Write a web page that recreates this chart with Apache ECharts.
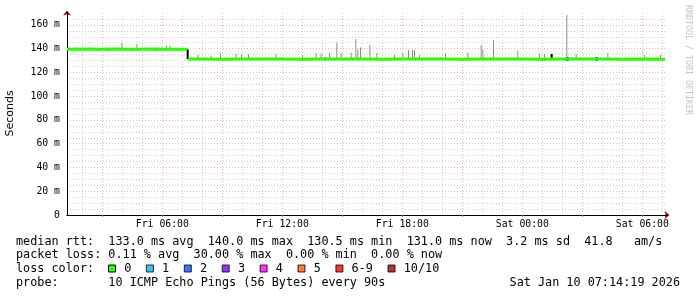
<!DOCTYPE html>
<html>
<head>
<meta charset="utf-8">
<script src="https://cdn.jsdelivr.net/npm/echarts@6/dist/echarts.min.js"></script>
<style>
html,body{margin:0;padding:0;background:#fff;}
#chart{width:697px;height:297px;}
</style>
</head>
<body>
<div id="chart"></div>
<script>
// ---- time range: Fri 01:14 -> Sat 07:14 (1 category per minute) ----
const rangeStartMin = 74;      // Fri 01:14 in minutes since Fri 00:00
const rangeEndMin = 1874;      // Sat 07:14

// ---- median RTT (ms), colour = loss 0 ----
const medianTimes = ['Fri 01:14','Fri 01:40','Fri 02:10','Fri 02:40','Fri 03:10','Fri 03:40','Fri 04:10','Fri 04:40','Fri 05:10','Fri 05:40','Fri 06:10','Fri 06:40','Fri 07:15','Fri 07:16',
  'Fri 07:17','Fri 08:00','Fri 09:00','Fri 10:00','Fri 11:00','Fri 12:00','Fri 13:00','Fri 14:00','Fri 15:00','Fri 16:00','Fri 17:00','Fri 18:00','Fri 19:00','Fri 20:00','Fri 21:00','Fri 22:00','Fri 23:00',
  'Sat 00:00','Sat 01:00','Sat 02:00','Sat 03:00','Sat 04:00','Sat 05:00','Sat 06:00','Sat 07:08'];
const medianValues = [139.5,139.4,139.6,139.5,139.4,139.6,139.5,139.5,139.4,139.6,139.5,139.4,139.5,null,
  131.2,131.3,131.1,131.2,131.3,131.2,131.1,131.2,131.3,131.2,131.1,131.2,131.3,131.2,131.1,131.2,131.3,
  131.2,131.1,131.2,131.3,131.2,131.1,131.2,131.0];

// ---- smoke spikes (grey): time, low (median), high ----
const smokeTimes = ['Fri 01:23','Fri 01:43','Fri 03:13','Fri 04:00','Fri 04:45','Fri 05:08','Fri 06:14','Fri 06:25','Fri 07:49','Fri 08:28','Fri 08:56','Fri 09:43','Fri 09:59','Fri 10:20','Fri 11:43',
  'Fri 13:02','Fri 13:43','Fri 13:58','Fri 14:23','Fri 14:45','Fri 14:58','Fri 15:28','Fri 15:42','Fri 15:48','Fri 15:56','Fri 16:24','Fri 16:45','Fri 17:38','Fri 18:03','Fri 18:20','Fri 18:32','Fri 18:38','Fri 18:53',
  'Fri 20:11','Fri 21:18','Fri 21:58','Fri 22:03','Fri 22:35','Fri 23:48','Sat 00:53','Sat 01:08','Sat 02:15','Sat 02:43','Sat 04:18','Sat 06:08','Sat 06:56'];
const smokeLow = [139.5,139.5,139.5,139.5,139.5,139.5,139.5,139.5,131.2,131.2,131.2,131.2,131.2,131.2,131.2,
  131.2,131.2,131.2,131.2,131.2,131.2,131.2,131.2,131.2,131.2,131.2,131.2,131.2,131.2,131.2,131.2,131.2,131.2,
  131.2,131.2,131.2,131.2,131.2,131.2,131.2,131.2,131.2,131.2,131.2,131.2,131.2];
const smokeHigh = [141.1,141.1,141.1,145.0,143.9,140.8,142.5,142.5,134.7,134.1,136.6,135.5,135.5,135.5,135.5,
  134.7,136.6,136.1,136.6,145.0,136.1,136.6,148.1,139.5,141.1,143.1,136.6,134.7,136.1,138.9,138.9,138.9,134.7,
  136.1,136.6,143.1,139.5,147.3,138.3,135.5,135.5,168.3,135.5,136.6,134.7,134.7];

// ---- dark marks on the median line ----
const blackTimes = ['Fri 07:16','Fri 11:58','Fri 19:55','Fri 22:06','Sat 01:28'];
const blackLow = [131.2,131.3,131.3,131.3,131.2];
const blackHigh = [139.5,132.3,132.3,132.3,135.5];

// ---- loss coloured median samples ----
const loss1Times = ['Fri 14:08'];
const loss1Values = [131.2];
const loss2Times = ['Sat 02:14','Sat 03:41'];
const loss2Values = [131.2,131.2];
const loss3Times = ['Sat 02:17','Sat 03:44'];
const loss3Values = [131.2,131.2];

// ---- legend ----
const lossNames = ['0','1','2','3','4','5','6-9','10/10'];
const lossColors = ['#26ff00','#00b8ff','#0059ff','#7e00ff','#ff00ff','#ff5500','#ff0000','#a10000'];

// ---- y axis ----
const yMin = 0, yMax = 170, yMinorStep = 5, yLabelStep = 20;

// ---- text ----
const line1 = 'median rtt:  133.0 ms avg  140.0 ms max  130.5 ms min  131.0 ms now  3.2 ms sd  41.8   am/s';
const line2 = 'packet loss: 0.11 % avg  30.00 % max  0.00 % min  0.00 % now';
const line3 = 'loss color:';
const line4 = 'probe:       10 ICMP Echo Pings (56 Bytes) every 90s';
const dateText = 'Sat Jan 10 07:14:19 2026';
const yTitle = 'Seconds';
const watermark = 'RRDTOOL / TOBI OETIKER';

// ---- build ----
function pad(n){return (n<10?'0':'')+n;}
function fmt(m){const d=m<1440?'Fri':'Sat';const mm=m%1440;return d+' '+pad(Math.floor(mm/60))+':'+pad(mm%60);}
const categories=[];
for(let m=rangeStartMin;m<=rangeEndMin;m++) categories.push(fmt(m));
const isHour = i => (rangeStartMin+i)%60===0;
const is3h = i => (rangeStartMin+i)%180===0;
const is6h = i => (rangeStartMin+i)%360===0;

const mono='"DejaVu Sans Mono"';
const GRAY='#cfcfcf', RED='#eab0b0';
const DASH=[1,2];
const hColors=[];
for(let v=yMin, i=0; v<=yMax; v+=yMinorStep, i++){
  hColors.push(v===yMax ? 'rgba(0,0,0,0)' : (v%yLabelStep===0 ? RED : GRAY));
}

const G = {left:67, top:13, width:600, height:202};

const series=[
  {name:'smokeBase',type:'bar',xAxisIndex:0,yAxisIndex:0,stack:'smoke',barWidth:1,barGap:'-100%',silent:true,
   itemStyle:{color:'rgba(0,0,0,0)'},data:smokeTimes.map((t,i)=>[t,smokeLow[i]])},
  {name:'smoke',type:'bar',xAxisIndex:0,yAxisIndex:0,stack:'smoke',barWidth:1,barGap:'-100%',silent:true,
   itemStyle:{color:'#8f8f8f'},data:smokeTimes.map((t,i)=>[t,+(smokeHigh[i]-smokeLow[i]).toFixed(2)])},
  {name:'0',type:'line',xAxisIndex:0,yAxisIndex:0,symbol:'none',connectNulls:false,silent:true,color:lossColors[0],
   lineStyle:{width:3,color:lossColors[0]},data:medianTimes.map((t,i)=>[t,medianValues[i]===null?'-':medianValues[i]])},
  {name:'blackBase',type:'bar',xAxisIndex:0,yAxisIndex:0,stack:'blk',barWidth:2,barGap:'-100%',silent:true,
   itemStyle:{color:'rgba(0,0,0,0)'},data:blackTimes.map((t,i)=>[t,blackLow[i]])},
  {name:'black',type:'bar',xAxisIndex:0,yAxisIndex:0,stack:'blk',barWidth:2,barGap:'-100%',silent:true,
   itemStyle:{color:'#000'},data:blackTimes.map((t,i)=>[t,+(blackHigh[i]-blackLow[i]).toFixed(2)])}
];
const lossData={'1':[loss1Times,loss1Values],'2':[loss2Times,loss2Values],'3':[loss3Times,loss3Values]};
lossNames.slice(1).forEach((n,k)=>{
  const d=lossData[n];
  series.push({name:n,type:'scatter',xAxisIndex:0,yAxisIndex:0,symbol:'rect',symbolSize:[2,4],silent:true,
    color:lossColors[k+1],itemStyle:{color:lossColors[k+1]},
    data:d?d[0].map((t,i)=>[t,d[1][i]]):[]});
});

const option={
  animation:false,
  backgroundColor:'#fff',
  grid:[Object.assign({},G),Object.assign({},G),Object.assign({},G)],
  xAxis:[
    {type:'category',gridIndex:0,data:categories,boundaryGap:false,z:0,
     axisLine:{show:false},axisTick:{show:false},axisLabel:{show:false},
     splitLine:{show:true,interval:(i)=>isHour(i),lineStyle:{color:[GRAY,RED,GRAY],type:DASH,width:1}}},
    {type:'value',gridIndex:1,min:0,max:1,z:1,
     axisLine:{show:true,symbol:['none','arrow'],symbolSize:[6,5],symbolOffset:[0,2.5],lineStyle:{color:'#990000',width:1}},
     axisTick:{show:false},axisLabel:{show:false},splitLine:{show:false}},
    {type:'category',gridIndex:2,data:categories,boundaryGap:false,z:3,
     axisLine:{show:true,lineStyle:{color:'#000',width:1}},
     axisTick:{show:true,interval:(i)=>is3h(i),length:2,lineStyle:{color:'#c08080'}},
     axisLabel:{show:true,interval:(i)=>is6h(i),margin:4,fontFamily:'DejaVu Sans Mono',fontSize:9.8,color:'#000'},
     splitLine:{show:false}}
  ],
  yAxis:[
    {type:'value',gridIndex:0,min:yMin,max:yMax,interval:yMinorStep,z:0,
     axisLine:{show:false},axisTick:{show:false},
     axisLabel:{show:true,margin:7,fontFamily:'DejaVu Sans Mono',fontSize:9.8,color:'#000',
       formatter:(v)=> (v%yLabelStep===0 && v<yMax) ? (v===0?'0':v+' m') : ''},
     splitLine:{show:true,lineStyle:{color:hColors,type:DASH,width:1}}},
    {type:'value',gridIndex:1,min:0,max:1,z:1,
     axisLine:{show:true,symbol:['none','arrow'],symbolSize:[6,5],symbolOffset:[0,2.5],lineStyle:{color:'#990000',width:1}},
     axisTick:{show:false},axisLabel:{show:false},splitLine:{show:false}},
    {type:'value',gridIndex:2,min:0,max:1,z:3,
     axisLine:{show:true,lineStyle:{color:'#000',width:1}},
     axisTick:{show:false},axisLabel:{show:false},splitLine:{show:false}}
  ],
  legend:{
    data:lossNames,left:108,top:262.5,padding:0,orient:'horizontal',icon:'rect',
    itemWidth:7,itemHeight:7,itemGap:14.6,selectedMode:false,
    itemStyle:{borderColor:'#000',borderWidth:1},
    textStyle:{fontFamily:'DejaVu Sans Mono',fontSize:11.8,color:'#000',padding:[0,0,0,3.7]}
  },
  graphic:[
    {type:'text',x:10.5,y:113.5,rotation:Math.PI/2,silent:true,
     style:{text:yTitle,font:'11px "DejaVu Sans"',fill:'#000',align:'center',verticalAlign:'middle'}},
    {type:'text',x:688,y:5,rotation:-Math.PI/2,silent:true,
     style:{text:watermark,font:'8.3px '+mono,fill:'#c4c4c4',align:'left',verticalAlign:'middle'}},
    {type:'text',x:16,y:241.5,silent:true,style:{text:line1,font:'11.8px '+mono,fill:'#000',verticalAlign:'middle'}},
    {type:'text',x:16,y:255.2,silent:true,style:{text:line2,font:'11.8px '+mono,fill:'#000',verticalAlign:'middle'}},
    {type:'text',x:16,y:268.9,silent:true,style:{text:line3,font:'11.8px '+mono,fill:'#000',verticalAlign:'middle'}},
    {type:'text',x:16,y:282.6,silent:true,style:{text:line4,font:'11.8px '+mono,fill:'#000',verticalAlign:'middle'}},
    {type:'text',x:680,y:282.6,silent:true,style:{text:dateText,font:'11.8px '+mono,fill:'#000',align:'right',verticalAlign:'middle'}}
  ],
  series:series
};
const chart=echarts.init(document.getElementById('chart'),null,{renderer:'canvas'});
chart.setOption(option);
</script>
</body>
</html>
